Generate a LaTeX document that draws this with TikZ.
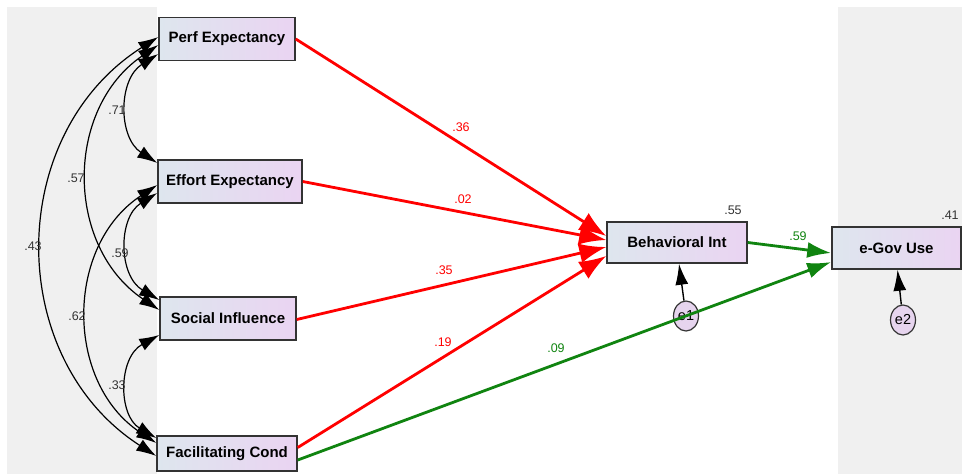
\documentclass[tikz,border=0pt]{standalone}
\usepackage{fontspec}
\setmainfont{Liberation Sans}
\usetikzlibrary{calc,arrows.meta,shapes.geometric}
\definecolor{panelgray}{RGB}{240,240,240}
\definecolor{boxleft}{RGB}{222,230,238}
\definecolor{boxright}{RGB}{234,212,242}
\definecolor{errfill}{RGB}{230,212,238}
\definecolor{pathred}{RGB}{255,0,0}
\definecolor{pathgreen}{RGB}{16,132,16}

\begin{document}
\begin{tikzpicture}[x=1pt,y=-1pt,
  var/.style={draw=black!80,line width=1.5pt,left color=boxleft,right color=boxright,
    inner sep=0pt,minimum height=43pt,font=\fontsize{15}{17}\selectfont\bfseries},
  err/.style={ellipse,draw=black!80,line width=1.2pt,fill=errfill,minimum width=25pt,
    minimum height=30pt,inner sep=0pt,font=\fontsize{14.5}{16}\selectfont},
  cov/.style={draw=black,line width=1.2pt,{Latex[length=20pt,width=13pt]}-{Latex[length=20pt,width=13pt]}},
  redpath/.style={draw=pathred,line width=2.8pt,-{Latex[length=27pt,width=20pt]}},
  greenpath/.style={draw=pathgreen,line width=2.8pt,-{Latex[length=24pt,width=16pt]}},
  errpath/.style={draw=black,line width=1.4pt,-{Latex[length=21pt,width=13pt]}},
  lbl/.style={font=\fontsize{12.5}{14}\selectfont,text=black!80,inner sep=0pt},
  redlbl/.style={lbl,text=pathred},
  greenlbl/.style={lbl,text=pathgreen}]
 \useasboundingbox (0,0) rectangle (962,474);
 % shaded panels
 \fill[panelgray] (7,7) rectangle (157,474);
 \fill[panelgray] (838,7) rectangle (962,474);
 % observed variables
 \node[var,minimum width=136pt] (pe) at (227,39) {Perf Expectancy};
 \node[var,minimum width=144pt] (ee) at (230,181.5) {Effort Expectancy};
 \node[var,minimum width=136pt] (si) at (228,318.5) {Social Influence};
 \node[var,minimum width=140pt,minimum height=35pt] (fc) at (227,453.5) {Facilitating Cond};
 \node[var,minimum width=140pt,minimum height=41pt] (bi) at (677,242.5) {Behavioral Int};
 \node[var,minimum width=129pt,minimum height=42pt] (eg) at (896.5,248) {e-Gov Use};
 % errors
 \node[err] (e1) at (686,316) {e1};
 \node[err] (e2) at (903,320) {e2};
 % covariances
 \draw[cov] ($(pe.west)+(0,15)$) .. controls (118,79.5) and (118,137.5) .. ($(ee.west)+(0,-18.5)$);
 \draw[cov] ($(pe.west)+(0,6)$) .. controls (64.7,108.7) and (64.7,246.3) .. ($(si.west)+(0,-8.5)$);
 \draw[cov] ($(pe.west)+(0,-2)$) .. controls (4.6,134.6) and (4.6,358.4) .. ($(fc.west)+(0,2.5)$);
 \draw[cov] ($(ee.west)+(0,11.5)$) .. controls (118,217.4) and (118,275.6) .. ($(si.west)+(0,-18.5)$);
 \draw[cov] ($(ee.west)+(0,3.5)$) .. controls (64.8,245.7) and (64.8,382.3) .. ($(fc.west)+(0,-10.5)$);
 \draw[cov] ($(si.west)+(0,16.5)$) .. controls (118,357.6) and (118,415.4) .. ($(fc.west)+(0,-15.5)$);
 % regression paths
 \draw[redpath] (pe.east) -- ($(bi.west)+(0,-6.5)$);
 \draw[redpath] (ee.east) -- ($(bi.west)+(0,-2.5)$);
 \draw[redpath] ($(si.east)+(0,1)$) -- ($(bi.west)+(0,4.5)$);
 \draw[redpath] ($(fc.east)+(0,-6)$) -- ($(bi.west)+(0,13.5)$);
 \draw[greenpath] ($(fc.east)+(0,6.5)$) -- ($(eg.west)+(0,14)$);
 \draw[greenpath] (bi.east) -- ($(eg.west)+(0,5)$);
 \draw[errpath] (e1) -- ($(bi.south)+(2,0)$);
 \draw[errpath] (e2) -- ($(eg.south)+(1,0)$);
 % estimates
 \node[lbl] (r71) at (117,110) {.71};
 \node[lbl] (r57) at (76,178) {.57};
 \node[lbl] (r43) at (33,246) {.43};
 \node[lbl] (r59) at (120,253) {.59};
 \node[lbl] (r62) at (77,316) {.62};
 \node[lbl] (r33) at (117,385) {.33};
 \node[redlbl] (b36) at (461,127) {.36};
 \node[redlbl] (b02) at (463,199) {.02};
 \node[redlbl] (b35) at (444,270) {.35};
 \node[redlbl] (b19) at (443,342) {.19};
 \node[greenlbl] (b09) at (556,348) {.09};
 \node[greenlbl] (b59) at (798,236) {.59};
 \node[lbl] (sq1) at (733,210) {.55};
 \node[lbl] (sq2) at (950,215) {.41};
\end{tikzpicture}
\end{document}
